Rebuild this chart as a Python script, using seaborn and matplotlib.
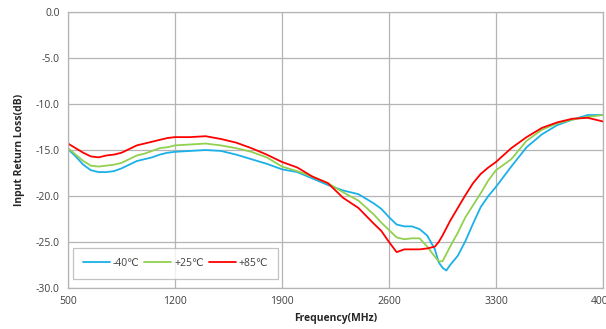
import matplotlib
matplotlib.use("Agg")
import matplotlib.pyplot as plt
import seaborn as sns
import pandas as pd

freq = [500, 550, 600, 650, 700, 750, 800, 850, 900, 950, 1000, 1050, 1100, 1150, 1200,
        1300, 1400, 1500, 1600, 1700, 1800, 1900, 2000, 2100, 2200, 2300, 2400, 2500,
        2550, 2600, 2650, 2700, 2750, 2800, 2850, 2900, 2925, 2950, 2975, 3000, 3050,
        3100, 3150, 3200, 3250, 3300, 3400, 3500, 3600, 3700, 3800, 3900, 4000]

rl_m40 = [-14.9, -15.7, -16.6, -17.2, -17.4, -17.4, -17.3, -17.0, -16.6, -16.2, -16.0, -15.8,
          -15.5, -15.3, -15.2, -15.1, -15.0, -15.1, -15.5, -16.0, -16.5, -17.1, -17.4, -18.1,
          -18.8, -19.4, -19.8, -20.8, -21.4, -22.3, -23.1, -23.3, -23.3, -23.6, -24.3, -25.8,
          -27.2, -27.8, -28.1, -27.5, -26.5, -24.9, -23.0, -21.2, -20.0, -19.0, -16.8, -14.7,
          -13.3, -12.3, -11.7, -11.2, -11.2]

rl_p25 = [-14.8, -15.5, -16.2, -16.7, -16.8, -16.7, -16.6, -16.4, -16.0, -15.6, -15.4, -15.1,
          -14.8, -14.7, -14.5, -14.4, -14.3, -14.5, -14.8, -15.2, -15.8, -16.8, -17.3, -17.9,
          -18.6, -19.6, -20.5, -22.0, -22.9, -23.7, -24.5, -24.7, -24.6, -24.6, -25.5, -26.6,
          -27.1, -27.1, -26.3, -25.5, -24.0, -22.3, -21.0, -19.7, -18.3, -17.2, -16.0, -14.0,
          -12.8, -12.1, -11.7, -11.4, -11.2]

rl_p85 = [-14.3, -14.8, -15.3, -15.7, -15.8, -15.6, -15.5, -15.3, -14.9, -14.5, -14.3, -14.1,
          -13.9, -13.7, -13.6, -13.6, -13.5, -13.8, -14.2, -14.8, -15.5, -16.3, -16.9, -17.9,
          -18.6, -20.2, -21.3, -23.0, -23.8, -25.0, -26.1, -25.8, -25.8, -25.8, -25.7, -25.5,
          -25.0, -24.3, -23.5, -22.7, -21.3, -19.9, -18.6, -17.6, -16.9, -16.3, -14.8, -13.6,
          -12.6, -12.0, -11.6, -11.5, -11.9]

series_names = ["-40℃", "+25℃", "+85℃"]
colors = ["#1AB0E8", "#92D050", "#FF0000"]
x_ticks = [500, 1200, 1900, 2600, 3300, 4000]
y_ticks = [0.0, -5.0, -10.0, -15.0, -20.0, -25.0, -30.0]

df = pd.concat([
    pd.DataFrame({"freq": freq, "rl": vals, "temp": name})
    for name, vals in zip(series_names, [rl_m40, rl_p25, rl_p85])
])

sns.set_theme(style="white")
plt.rcParams["font.family"] = ["Open Sans", "DejaVu Sans"]

fig = plt.figure(figsize=(6.06, 3.29), dpi=100)
ax = fig.add_axes([68 / 606, 1 - 288 / 329, 535 / 606, 276 / 329])

sns.lineplot(data=df, x="freq", y="rl", hue="temp", hue_order=series_names,
             palette=colors, linewidth=1.3, ax=ax, legend=True)

ax.set_xlim(500, 4000)
ax.set_ylim(-30, 0)
ax.set_xticks(x_ticks)
ax.set_xticklabels([str(t) for t in x_ticks])
ax.set_yticks(y_ticks)
ax.set_yticklabels([f"{t:.1f}" for t in y_ticks])
ax.grid(True, color="#b4b4b4", linewidth=0.9)
for s in ax.spines.values():
    s.set_color("#b4b4b4")
    s.set_linewidth(0.9)
ax.tick_params(axis="both", labelsize=7.5, colors="#404040", length=0, pad=6)
ax.set_xlabel("Frequency(MHz)", fontsize=7.5, fontweight="bold", color="#262626", labelpad=4)
ax.set_ylabel("Input Return Loss(dB)", fontsize=7.5, fontweight="bold", color="#262626", labelpad=8)

handles, labels = ax.get_legend_handles_labels()
leg = ax.legend(handles, labels, ncol=3, loc="lower left",
                bbox_to_anchor=(0.009, 0.033), fontsize=7.5, frameon=True,
                fancybox=False, edgecolor="#b4b4b4", handlelength=2.6,
                columnspacing=0.5, borderpad=0.95, handletextpad=0.25,
                borderaxespad=0.0)
leg.get_frame().set_linewidth(0.9)
for t in leg.get_texts():
    t.set_color("#404040")

fig.savefig("out.png", dpi=100)
